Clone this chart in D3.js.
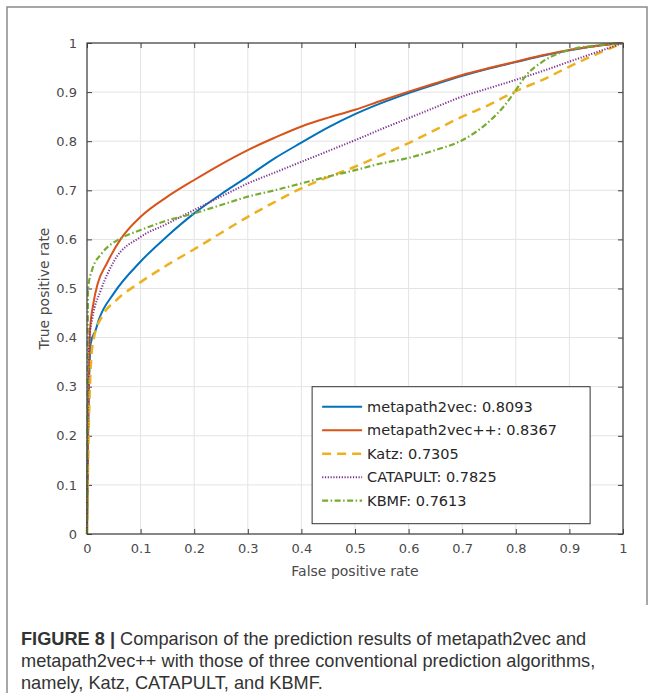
<!DOCTYPE html>
<html>
<head>
<meta charset="utf-8">
<script src="https://cdn.jsdelivr.net/npm/d3@7"></script>
<style>
  body { margin: 0; background: #fff; }
  svg { display: block; }
</style>
</head>
<body>
<svg id="chart" width="654" height="693"></svg>
<script>
// ROC curves: [false positive rate, true positive rate]
var metapath2vec = [[0,0],[0.002,0.2],[0.005,0.35],[0.007,0.389],[0.016,0.415],[0.022,0.436],[0.05,0.49],[0.1,0.555],[0.15,0.607],[0.2,0.653],[0.25,0.692],[0.3,0.728],[0.35,0.765],[0.4,0.797],[0.45,0.828],[0.5,0.855],[0.55,0.878],[0.6,0.898],[0.65,0.916],[0.7,0.933],[0.75,0.948],[0.8,0.961],[0.85,0.974],[0.9,0.985],[0.95,0.994],[1,1]];
var metapath2vecPP = [[0,0],[0.002,0.2],[0.004,0.35],[0.006,0.42],[0.012,0.47],[0.02,0.51],[0.037,0.551],[0.0625,0.6],[0.1,0.646],[0.15,0.687],[0.2,0.721],[0.25,0.753],[0.3,0.782],[0.35,0.807],[0.4,0.83],[0.45,0.848],[0.5,0.864],[0.55,0.883],[0.6,0.901],[0.65,0.918],[0.7,0.935],[0.75,0.949],[0.8,0.962],[0.85,0.975],[0.9,0.986],[0.95,0.994],[1,1]];
var katz = [[0,0],[0.003,0.2],[0.008,0.36],[0.013,0.4],[0.028,0.443],[0.0535,0.475],[0.1,0.513],[0.15,0.548],[0.2,0.58],[0.25,0.613],[0.3,0.646],[0.35,0.676],[0.4,0.704],[0.45,0.727],[0.5,0.748],[0.55,0.772],[0.6,0.796],[0.65,0.823],[0.7,0.85],[0.75,0.874],[0.8,0.902],[0.85,0.925],[0.9,0.952],[0.95,0.977],[1,1]];
var catapult = [[0,0],[0.001,0.15],[0.003,0.33],[0.004,0.395],[0.01,0.44],[0.026,0.497],[0.05,0.555],[0.1,0.605],[0.15,0.632],[0.2,0.66],[0.25,0.687],[0.3,0.714],[0.35,0.736],[0.4,0.758],[0.45,0.78],[0.5,0.802],[0.55,0.825],[0.6,0.847],[0.65,0.869],[0.7,0.891],[0.75,0.908],[0.8,0.925],[0.85,0.943],[0.9,0.962],[0.95,0.981],[1,1]];
var kbmf = [[0,0],[0.001,0.3],[0.002,0.5],[0.0095,0.538],[0.028,0.572],[0.0625,0.602],[0.1,0.619],[0.142,0.636],[0.2,0.653],[0.25,0.67],[0.3,0.687],[0.35,0.7],[0.4,0.714],[0.45,0.728],[0.5,0.741],[0.55,0.755],[0.6,0.766],[0.65,0.782],[0.7,0.802],[0.75,0.84],[0.78,0.874],[0.8,0.904],[0.82,0.935],[0.85,0.962],[0.9,0.986],[0.95,0.995],[1,1]];

var seriesNames = ["metapath2vec: 0.8093", "metapath2vec++: 0.8367", "Katz: 0.7305", "CATAPULT: 0.7825", "KBMF: 0.7613"];
var xTicks = [0, 0.1, 0.2, 0.3, 0.4, 0.5, 0.6, 0.7, 0.8, 0.9, 1];
var yTicks = [0, 0.1, 0.2, 0.3, 0.4, 0.5, 0.6, 0.7, 0.8, 0.9, 1];
var captionLines = [
    [["FIGURE 8 | ", true], ["Comparison of the prediction results of metapath2vec and", false]],
    [["metapath2vec++ with those of three conventional prediction algorithms,", false]],
    [["namely, Katz, CATAPULT, and KBMF.", false]]
];

var series = [
    { data: metapath2vec, color: "#0072BD", dash: null, width: 2 },
    { data: metapath2vecPP, color: "#D95319", dash: null, width: 2 },
    { data: katz, color: "#EDB120", dash: "9,6", width: 2.5 },
    { data: catapult, color: "#7E2F8E", dash: "1.2,1.6", width: 2 },
    { data: kbmf, color: "#77AC30", dash: "6,2.5,1.5,2.5", width: 2.2 }
];

var svg = d3.select("#chart");

// outer figure frame
var frame = svg.append("g").attr("stroke", "#8a8a8a").attr("stroke-width", 1.5).attr("fill", "none");
frame.append("path").attr("d", "M7,693 V7 H647 V605");

var margin = { left: 87, top: 43, right: 31, bottom: 159 },
    width = 654 - margin.left - margin.right,
    height = 693 - margin.top - margin.bottom;

var g = svg.append("g").attr("transform", "translate(" + margin.left + "," + margin.top + ")");

var x = d3.scaleLinear().domain([0, 1]).range([0, width]);
var y = d3.scaleLinear().domain([0, 1]).range([height, 0]);

// grid
g.append("g").selectAll("line").data(xTicks).enter().append("line")
    .attr("x1", function(d) { return x(d); }).attr("x2", function(d) { return x(d); })
    .attr("y1", 0).attr("y2", height)
    .attr("stroke", "#e3e3e3").attr("stroke-width", 1);
g.append("g").selectAll("line").data(yTicks).enter().append("line")
    .attr("y1", function(d) { return y(d); }).attr("y2", function(d) { return y(d); })
    .attr("x1", 0).attr("x2", width)
    .attr("stroke", "#e3e3e3").attr("stroke-width", 1);

var fmt = function(d) { return d3.format("")(+d.toFixed(1)); };

function styleAxis(sel) {
    sel.select(".domain").remove();
    sel.selectAll(".tick line").attr("stroke", "#404040");
    sel.selectAll(".tick text").attr("fill", "#4a4a4a")
        .style("font-family", "DejaVu Sans").style("font-size", "13px");
}

g.append("g").attr("transform", "translate(0," + height + ")")
    .call(d3.axisBottom(x).tickValues(xTicks).tickFormat(fmt).tickSizeInner(-5).tickSizeOuter(0).tickPadding(10))
    .call(styleAxis);
g.append("g")
    .call(d3.axisTop(x).tickValues(xTicks).tickFormat("").tickSizeInner(-5).tickSizeOuter(0))
    .call(styleAxis);
g.append("g")
    .call(d3.axisLeft(y).tickValues(yTicks).tickFormat(fmt).tickSizeInner(-5).tickSizeOuter(0).tickPadding(10))
    .call(styleAxis);
g.append("g").attr("transform", "translate(" + width + ",0)")
    .call(d3.axisRight(y).tickValues(yTicks).tickFormat("").tickSizeInner(-5).tickSizeOuter(0))
    .call(styleAxis);

// curves
var line = d3.line().x(function(d) { return x(d[0]); }).y(function(d) { return y(d[1]); }).curve(d3.curveMonotoneX);
var plot = g.append("g");
series.forEach(function(s) {
    plot.append("path").datum(s.data)
        .attr("d", line)
        .attr("fill", "none")
        .attr("stroke", s.color)
        .attr("stroke-width", s.width)
        .attr("stroke-dasharray", s.dash);
});

// axes box
g.append("rect").attr("width", width).attr("height", height)
    .attr("fill", "none").attr("stroke", "#404040").attr("stroke-width", 1.2);

// axis labels
g.append("text").attr("x", width / 2).attr("y", height + 42)
    .attr("text-anchor", "middle").attr("fill", "#4a4a4a")
    .style("font-family", "DejaVu Sans").style("font-size", "14px")
    .text("False positive rate");
g.append("text").attr("transform", "translate(-38," + (height / 2) + ") rotate(-90)")
    .attr("text-anchor", "middle").attr("fill", "#4a4a4a")
    .style("font-family", "DejaVu Sans").style("font-size", "14px")
    .text("True positive rate");

// legend
var legend = g.append("g").attr("transform", "translate(" + (x(0.42)) + "," + (y(0.3)) + ")");
legend.append("rect").attr("width", 278).attr("height", 137)
    .attr("fill", "#fff").attr("stroke", "#333").attr("stroke-width", 1);
series.forEach(function(s, i) {
    var ly = 20 + i * 23.5;
    legend.append("line").attr("x1", 10).attr("x2", 50).attr("y1", ly).attr("y2", ly)
        .attr("stroke", s.color).attr("stroke-width", s.width)
        .attr("stroke-dasharray", s.dash);
    legend.append("text").attr("x", 55).attr("y", ly).attr("dy", "0.35em")
        .attr("fill", "#262626")
        .style("font-family", "DejaVu Sans").style("font-size", "14.5px")
        .text(seriesNames[i]);
});

// caption
var cap = svg.append("g");
captionLines.forEach(function(parts, i) {
    var t = cap.append("text").attr("x", 21).attr("y", 645 + i * 22)
        .attr("fill", "#333")
        .style("font-family", "Liberation Sans").style("font-size", "18.2px");
    parts.forEach(function(p) {
        t.append("tspan").attr("font-weight", p[1] ? "bold" : "normal").text(p[0]);
    });
});
</script>
</body>
</html>
